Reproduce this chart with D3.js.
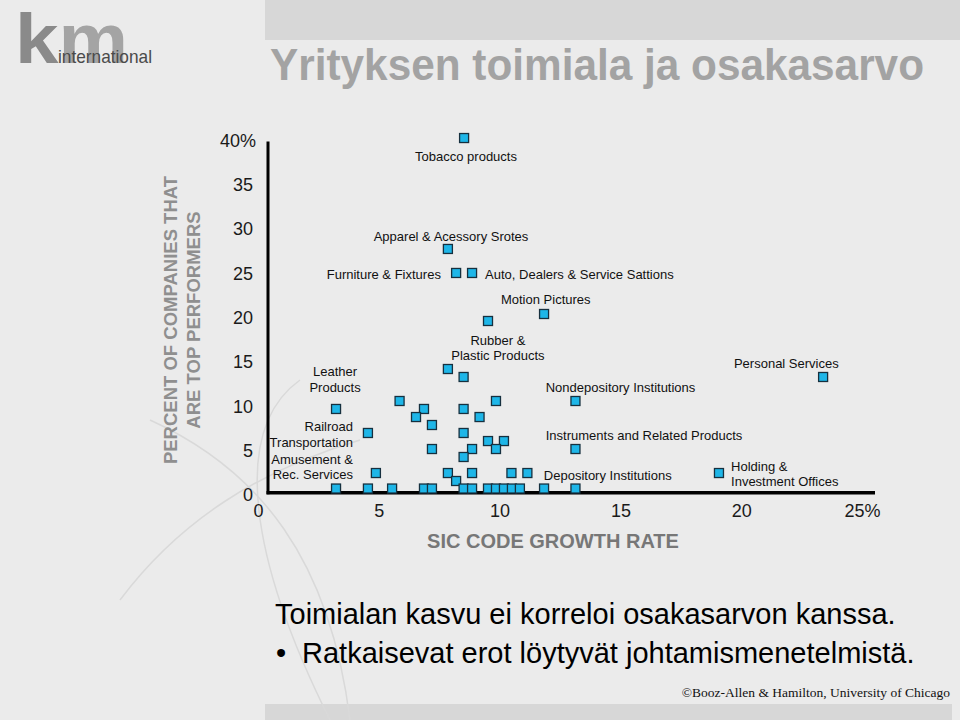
<!DOCTYPE html>
<html>
<head>
<meta charset="utf-8">
<script src="https://cdn.jsdelivr.net/npm/d3@7/dist/d3.min.js"></script>
<style>
html,body{margin:0;padding:0;background:#ebebeb;}
svg{display:block;font-family:"Liberation Sans",Arial,sans-serif;}
</style>
</head>
<body>
<script>
// ---- data ----
const growthRate = [8.53, 7.86, 8.20, 8.86, 11.84, 9.52, 7.86, 8.51, 13.14, 23.39,
  3.23, 5.86, 6.87, 6.54, 8.51, 9.85, 9.17, 7.20, 4.55, 8.51, 9.52, 10.18, 9.85, 7.20, 8.86, 13.14, 8.51,
  4.88, 7.86, 8.20, 8.86, 10.49, 11.15, 19.08,
  3.23, 4.55, 5.55, 6.87, 7.20, 8.51, 8.86, 9.52, 9.85, 10.18, 10.51, 10.84, 11.84, 13.14];
const topPerformerPct = [40.29, 27.77, 25.06, 25.06, 20.43, 19.64, 14.22, 13.32, 10.61, 13.32,
  9.71, 10.61, 9.71, 8.80, 9.71, 10.61, 8.80, 7.90, 7.00, 7.00, 6.09, 6.09, 5.19, 5.19, 5.19, 5.19, 4.29,
  2.48, 2.48, 1.58, 2.48, 2.48, 2.48, 2.48,
  0.73, 0.73, 0.73, 0.73, 0.73, 0.73, 0.73, 0.73, 0.73, 0.73, 0.73, 0.73, 0.73, 0.73];
const xTicks = [0, 5, 10, 15, 20, 25];
const yTicks = [0, 5, 10, 15, 20, 25, 30, 35, 40];
const labelText = [
  ["Tobacco products"], ["Apparel & Acessory Srotes"], ["Furniture & Fixtures"],
  ["Auto, Dealers & Service Sattions"], ["Motion Pictures"], ["Rubber &", "Plastic Products"],
  ["Leather", "Products"], ["Railroad", "Transportation"], ["Amusement &", "Rec. Services"],
  ["Nondepository Institutions"], ["Personal Services"], ["Instruments and Related Products"],
  ["Depository Institutions"], ["Holding &", "Investment Offices"]];
const labelX = [8.61, 7.99, 7.57, 9.40, 11.91, 9.93, 3.19, 3.93, 3.93, 11.91, 19.70, 11.91, 11.83, 19.58];
const labelY = [38.26, 29.23, 24.86, 24.86, 22.09, 17.49, 13.92, 7.71, 4.06, 12.16, 14.86, 6.77, 2.26, 3.27];
const labelAnchor = ["middle","middle","end","start","middle","middle","middle","end","end","start","start","start","start","start"];
const title = "Yrityksen toimiala ja osakasarvo";
const yTitle = ["PERCENT OF COMPANIES THAT", "ARE TOP PERFORMERS"];
const xTitle = "SIC CODE GROWTH RATE";
const bodyLines = ["Toimialan kasvu ei korreloi osakasarvon kanssa.", "Ratkaisevat erot löytyvät johtamismenetelmistä."];
const credit = "©Booz-Allen & Hamilton, University of Chicago";

// ---- drawing ----
const W = 960, H = 720;
const svg = d3.select("body").append("svg").attr("width", W).attr("height", H);
svg.append("rect").attr("width", W).attr("height", H).attr("fill", "#ebebeb");
svg.append("rect").attr("x", 265).attr("y", 0).attr("width", W - 265).attr("height", 40).attr("fill", "#d7d7d7");
svg.append("rect").attr("x", 265).attr("y", 704).attr("width", 687).attr("height", 16).attr("fill", "#d7d7d7");

// faint decorative arcs
const deco = svg.append("g").attr("fill", "none").attr("stroke", "#d9d9d9").attr("stroke-width", 1.5);
deco.append("path").attr("d", "M150,420 C260,470 330,560 350,720");
deco.append("path").attr("d", "M120,600 C180,520 260,470 360,440");
deco.append("path").attr("d", "M300,380 C230,430 250,560 330,720");

// logo
const logo = svg.append("text").attr("x", 15).attr("y", 63)
  .style("font-weight", "bold").style("font-size", "70px").attr("textLength", 113).attr("lengthAdjust", "spacingAndGlyphs");
logo.append("tspan").attr("fill", "#8a8a8a").text("k");
logo.append("tspan").attr("fill", "#a4a4a4").text("m");
svg.append("text").attr("x", 58).attr("y", 63).attr("fill", "#4a4a4a")
  .style("font-size", "19px").attr("textLength", 94).attr("lengthAdjust", "spacingAndGlyphs").text("international");

// title
svg.append("text").attr("x", 270).attr("y", 80).attr("fill", "#a3a3a3")
  .style("font-weight", "bold").style("font-size", "44px")
  .attr("textLength", 654).attr("lengthAdjust", "spacingAndGlyphs").text(title);

// scales
const x = d3.scaleLinear().domain([0, 25]).range([258, 862]);
const y = d3.scaleLinear().domain([0, 40]).range([495, 140.6]);

// axis tick labels
const gx = svg.append("g").attr("transform", `translate(0,${y(0) + 16})`)
  .call(d3.axisBottom(x).tickValues(xTicks).tickSize(0).tickFormat(d => d === 25 ? "25%" : d));
gx.select(".domain").remove();
gx.selectAll("text").attr("fill", "#1a1a1a").style("font-size", "18px").style("font-family", "Liberation Sans, Arial, sans-serif")
  .attr("dy", "0.32em").attr("y", 0);

const gy = svg.append("g").attr("transform", `translate(${x(0) - 5},0)`)
  .call(d3.axisLeft(y).tickValues(yTicks).tickSize(0).tickFormat(d => d === 40 ? "40%" : d));
gy.select(".domain").remove();
gy.selectAll("text").attr("fill", "#1a1a1a").style("font-size", "18px").style("font-family", "Liberation Sans, Arial, sans-serif")
  .attr("x", 0);
gy.selectAll(".tick").filter(d => d === 40).select("text").attr("x", 3);

// axis lines
const x0 = x(0) + 10, xEnd = x(25) + 13, yBase = y(0) - 2.3;
svg.append("path").attr("d", `M${x0},${y(40) + 1}V${yBase + 1.5}`).attr("stroke", "#000").attr("stroke-width", 3).attr("fill", "none");
svg.append("path").attr("d", `M${x0 - 1.5},${yBase}H${xEnd}`).attr("stroke", "#000").attr("stroke-width", 3.6).attr("fill", "none");

// axis titles
svg.append("text").attr("x", 553).attr("y", 548).attr("text-anchor", "middle").attr("fill", "#777")
  .style("font-weight", "bold").style("font-size", "20px").text(xTitle);
const yt = svg.append("text").attr("transform", "translate(170,320) rotate(-90)").attr("text-anchor", "middle")
  .attr("fill", "#8f8f8f").style("font-weight", "bold").style("font-size", "18.5px");
yTitle.forEach((t, i) => yt.append("tspan").attr("x", 0).attr("y", 7 + i * 23).text(t));

// points
const pts = growthRate.map((g, i) => ({ g, p: topPerformerPct[i] }));
const s = 9;
svg.append("g").selectAll("rect").data(pts).join("rect")
  .attr("x", d => x(d.g) - s / 2).attr("y", d => y(d.p) - s / 2)
  .attr("width", s).attr("height", s)
  .attr("fill", "#1eb6e8").attr("stroke", "#16303f").attr("stroke-width", 1.3);

// annotations
const ann = svg.append("g").style("font-size", "13px").attr("fill", "#111");
labelText.forEach((lines, i) => {
  const t = ann.append("text").attr("text-anchor", labelAnchor[i]);
  lines.forEach((l, j) => t.append("tspan").attr("x", x(labelX[i])).attr("y", y(labelY[i]) + 4.6 + j * 15.7).text(l));
});

// body text
svg.append("text").attr("x", 275).attr("y", 624).attr("fill", "#000").style("font-size", "29px").text(bodyLines[0]);
svg.append("text").attr("x", 276).attr("y", 663).attr("fill", "#000").style("font-size", "29px").text("•");
svg.append("text").attr("x", 302).attr("y", 663).attr("fill", "#000").style("font-size", "29px").text(bodyLines[1]);

// credit
svg.append("text").attr("x", 950).attr("y", 697).attr("text-anchor", "end").attr("fill", "#111")
  .style("font-family", "Liberation Serif, Times New Roman, serif").style("font-size", "13.5px")
  .text(credit);
</script>
</body>
</html>
